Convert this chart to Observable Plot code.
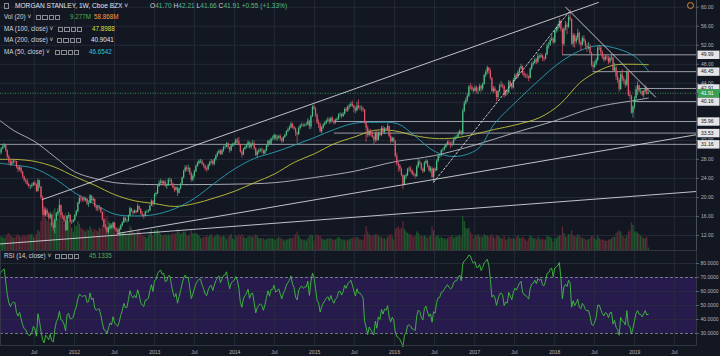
<!DOCTYPE html>
<html><head><meta charset="utf-8">
<script src="https://cdn.jsdelivr.net/npm/d3@7"></script>
<script src="https://cdn.jsdelivr.net/npm/@observablehq/plot@0.6"></script>
<style>
body{margin:0;background:#131722;}
#chart{position:relative;width:720px;height:356px;background:#131722;overflow:hidden;font-family:"Liberation Sans",Arial,sans-serif;}
#chart svg{position:absolute;}
.t{position:absolute;white-space:nowrap;font-size:6.3px;line-height:8px;color:#d1d4dc;}
.ic{display:inline-block;width:3.4px;height:3.4px;border:0.7px solid #8a8d96;margin-right:0.9px;vertical-align:middle;}
</style></head><body><div id="chart"></div>
<script>
// ---------- DATA (weekly bars, week starting 2011-01-24) ----------
const firstWeek = "2011-01-24";
const priorCloses = [25.0,25.6,25.3,24.9,25.9,25.4,24.9,24.3,25.6,26.3,26.9,27.4,27.2,28.6,29.4,29.0];
const closes = [
// 2011
29.4,30.2,30.6,30.9,29.8,28.5,27.5,27.0,27.4,27.6,27.5,26.3,25.8,26.2,25.3,24.3,23.6,23.4,22.7,22.3,22.3,22.5,23.0,22.6,21.3,23.5,22.2,20.0,17.5,16.2,17.2,16.5,15.6,16.3,14.0,13.5,15.2,16.5,17.0,18.3,16.2,16.0,15.0,13.0,16.0,16.2,14.8,14.8,15.1,
// 2012
16.2,17.0,18.7,19.8,19.6,19.4,19.6,19.6,18.6,18.7,20.3,19.3,19.6,18.0,17.6,17.8,17.8,16.8,15.3,13.8,13.6,12.7,13.4,14.0,13.6,14.6,13.4,13.0,12.7,13.2,14.0,14.6,15.6,15.0,15.0,16.1,17.6,17.0,16.7,17.1,16.8,18.1,17.5,16.5,16.2,16.0,16.9,16.9,17.1,18.2,19.2,18.5,20.6,
// 2013
20.8,22.3,23.0,23.3,22.9,23.2,22.4,22.5,23.6,23.6,22.8,22.0,21.5,22.0,20.9,21.8,22.8,24.1,25.5,26.2,25.9,26.1,25.0,23.6,24.4,25.4,26.5,27.1,27.6,27.6,27.0,26.6,26.0,25.8,26.7,27.3,27.5,27.0,27.9,28.7,29.3,29.7,29.1,29.8,30.5,30.6,31.3,30.5,29.8,30.8,31.1,31.3,
// 2014
32.0,31.7,31.0,29.5,28.9,30.1,30.5,30.9,31.5,30.5,31.2,31.3,30.2,28.8,29.5,29.8,30.0,29.8,29.2,29.8,30.8,31.8,31.2,32.3,32.3,33.0,32.3,32.5,32.8,32.3,31.8,32.6,33.0,33.8,34.2,34.6,35.4,34.7,34.4,33.5,33.2,34.5,35.0,35.2,35.0,35.2,35.2,36.0,34.8,37.0,39.0,38.6,
// 2015
37.3,35.7,35.3,33.8,34.6,35.2,35.6,36.0,36.3,35.8,36.6,36.0,35.6,36.2,36.4,37.3,37.4,37.0,37.5,38.5,38.2,39.0,39.2,39.6,39.2,38.7,38.2,39.2,38.8,38.8,38.6,38.4,35.6,34.6,33.0,33.8,33.2,32.6,32.0,33.5,32.0,33.5,33.0,34.5,33.6,34.4,34.2,34.9,32.8,31.7,32.4,31.8,
// 2016
28.6,27.0,26.6,25.9,24.6,22.6,24.3,24.6,25.8,25.9,25.6,24.8,24.7,24.4,26.4,27.4,27.1,25.9,25.4,27.2,27.6,26.5,25.6,26.0,24.2,25.9,25.6,27.6,28.6,28.7,29.8,29.9,30.5,31.0,31.5,31.2,31.0,31.2,32.1,32.6,32.6,33.3,33.8,33.3,38.1,39.7,40.4,41.3,43.2,43.1,42.6,42.3,
// 2017
43.0,42.4,42.4,43.4,42.8,43.8,45.6,46.3,47.2,46.6,45.0,42.3,42.8,42.3,41.0,42.2,43.4,43.6,43.3,41.5,42.2,42.0,44.2,43.6,43.0,44.6,45.6,45.3,46.2,47.0,47.5,46.0,45.6,45.5,45.3,45.0,47.0,48.0,48.2,48.9,48.5,49.7,49.5,49.8,49.2,49.1,50.0,51.8,52.0,53.0,53.3,52.5,
// 2018
55.0,55.4,55.8,57.0,55.3,52.2,55.4,56.2,55.8,57.8,57.4,52.2,54.0,52.7,53.5,54.5,52.4,52.0,53.4,52.8,51.8,51.5,51.6,50.3,47.8,47.4,48.0,48.8,51.4,51.4,50.5,49.5,48.9,49.5,49.3,48.4,49.2,49.3,46.6,47.2,45.3,44.6,42.7,45.8,44.8,44.5,43.6,46.4,41.5,41.2,37.7,39.0,40.8,
// 2019
42.7,43.5,42.3,42.3,41.5,42.2,42.9,41.7,41.91];
const highs = [
29.9,30.5,31.0,31.3,31.0,30.0,28.9,27.9,27.8,28.0,28.0,27.6,26.6,26.6,26.4,25.5,24.5,23.9,23.8,23.0,22.6,22.9,23.2,23.4,22.8,23.9,23.6,22.3,20.3,18.0,17.8,17.6,16.8,16.9,16.4,14.6,15.4,16.8,17.6,19.6,18.4,16.8,16.2,15.1,16.2,16.8,16.4,15.2,15.4,
16.4,17.3,19.0,20.3,20.4,20.0,20.2,20.0,19.8,19.0,20.6,20.4,20.0,19.6,18.2,18.3,18.3,17.9,16.9,15.4,14.3,13.8,13.7,14.5,14.4,14.8,14.7,13.6,13.3,13.4,14.3,14.9,15.9,15.8,15.3,16.3,18.0,17.7,17.2,17.4,17.3,18.6,18.2,17.6,17.0,16.4,17.1,17.3,17.4,18.4,19.5,19.3,20.8,
21.1,22.6,23.5,23.8,23.6,23.5,23.6,22.8,24.0,24.1,23.9,23.0,22.2,22.3,22.1,22.0,23.0,24.3,25.7,26.7,26.6,26.8,26.3,25.3,24.8,25.7,26.8,27.5,27.9,28.0,27.9,27.2,26.8,26.3,27.0,27.6,28.0,27.8,28.2,29.0,29.6,30.0,30.0,30.1,30.8,31.0,31.6,31.5,30.6,31.0,31.4,31.6,
32.3,32.4,32.6,31.1,29.8,30.3,30.8,31.2,31.9,31.7,31.5,32.0,31.8,30.4,29.8,30.2,30.3,30.4,30.0,30.0,31.0,32.0,32.1,32.5,32.9,33.3,33.2,33.0,33.1,33.2,32.5,32.8,33.3,34.0,34.6,35.0,35.8,35.6,35.0,34.6,33.8,34.8,35.3,35.6,35.5,35.5,35.7,36.6,36.2,37.3,39.3,39.5,
38.9,37.6,36.3,35.6,34.9,35.5,35.9,36.3,36.8,36.7,36.9,37.0,36.3,36.5,36.8,37.6,37.8,37.7,37.9,38.8,38.9,39.3,39.6,40.0,40.3,39.4,39.0,40.0,40.5,39.3,39.2,39.0,38.5,35.8,35.0,34.2,34.3,33.8,32.9,33.8,33.9,33.8,33.8,34.9,35.0,34.7,34.6,35.5,35.0,33.6,32.7,32.6,
31.9,29.3,27.4,26.9,26.2,24.8,24.6,25.0,26.1,26.4,26.5,25.8,25.3,25.0,26.7,28.0,27.8,27.2,26.2,27.5,27.9,27.8,26.8,26.5,26.4,26.1,26.2,27.9,28.9,29.0,30.0,30.3,30.9,31.3,31.9,32.0,31.6,31.8,32.4,32.9,33.0,33.8,34.2,34.0,38.6,40.2,40.9,41.8,43.5,44.0,43.6,43.0,
43.5,43.4,43.1,43.8,43.6,44.1,45.9,46.7,47.6,47.3,47.0,45.2,43.3,43.3,42.4,42.5,43.8,44.4,43.9,43.6,42.6,42.6,44.6,44.5,43.9,45.0,46.0,46.0,46.7,47.3,48.0,47.6,46.5,46.0,46.0,45.6,47.3,48.4,48.6,49.3,49.2,50.2,50.0,50.3,50.0,49.5,50.3,52.3,52.6,53.4,54.0,53.6,
55.2,55.9,56.4,57.6,57.3,55.5,55.7,57.0,56.7,58.3,59.4,57.5,54.5,54.4,54.0,55.4,54.8,52.9,53.9,54.0,53.1,52.3,52.6,52.2,50.6,48.5,48.6,49.3,51.8,52.0,51.8,50.8,49.8,49.9,49.9,49.6,49.6,50.0,49.5,48.2,47.5,46.5,45.0,46.3,46.9,45.4,44.7,46.8,46.5,42.4,41.5,39.3,41.2,
43.4,44.3,43.6,42.9,42.4,42.5,43.5,43.2,42.21];
const lows = [
28.6,29.0,30.0,30.3,29.5,28.2,27.0,26.5,26.6,27.0,27.1,26.0,25.2,25.5,24.9,24.0,23.2,22.8,22.4,21.9,21.6,21.9,22.3,22.3,21.0,21.1,21.9,19.5,16.3,15.8,15.9,15.8,15.2,15.3,13.8,12.9,12.3,15.0,16.0,16.8,15.6,15.3,14.6,12.9,13.0,15.5,14.6,14.3,14.6,
15.0,15.9,16.8,18.5,19.0,19.0,19.0,19.1,18.3,17.9,18.6,19.0,19.0,17.8,17.1,17.0,17.3,16.6,15.0,13.6,13.1,12.3,12.3,13.2,13.3,13.3,13.2,12.6,12.3,12.3,13.0,13.8,14.5,14.8,14.6,14.8,16.0,16.8,16.2,16.5,16.5,16.8,17.2,16.3,15.8,15.4,15.9,16.6,16.7,17.0,18.1,18.0,18.4,
20.1,20.6,22.1,22.7,22.4,22.6,22.1,21.7,22.3,23.2,22.4,21.8,21.0,21.3,20.2,20.7,21.6,22.6,23.9,25.2,25.4,25.3,24.6,23.2,23.3,24.1,25.2,26.3,26.8,27.1,26.7,26.2,25.6,25.3,25.6,26.4,27.0,26.6,26.6,27.6,28.4,29.0,28.8,28.8,29.5,30.1,30.4,30.1,29.3,29.6,30.5,30.8,
31.0,31.2,30.8,29.3,28.3,28.8,29.9,30.2,30.3,30.2,30.1,30.8,29.9,28.6,28.3,29.1,29.4,29.3,28.9,29.0,29.6,30.5,30.9,30.9,31.9,32.0,32.0,31.8,32.2,31.9,31.3,31.5,32.4,32.8,33.6,34.0,34.4,34.4,34.0,32.8,31.3,33.0,34.2,34.8,34.7,34.8,34.9,35.1,34.2,34.3,36.8,38.3,
36.9,35.3,34.5,33.6,33.3,34.3,35.0,35.3,35.7,35.3,35.5,35.7,35.2,35.4,35.8,36.2,36.8,36.5,36.8,37.3,37.9,37.9,38.5,38.9,38.9,37.8,37.6,38.0,38.5,38.3,38.0,37.9,35.4,31.6,32.6,32.7,32.8,32.4,30.9,31.5,31.6,31.9,32.7,32.8,33.3,33.2,33.9,33.9,32.5,31.3,31.5,31.4,
28.4,26.6,25.3,25.4,24.3,21.7,22.5,23.8,24.4,25.3,25.2,24.6,24.3,23.9,24.2,26.1,26.7,25.6,25.0,25.2,26.9,26.2,25.3,25.1,24.0,23.1,25.2,25.5,27.3,28.2,28.5,29.5,29.8,30.3,30.8,30.9,30.3,30.6,30.9,31.9,32.2,32.4,33.1,32.9,33.0,37.8,39.4,40.0,41.0,42.6,42.2,41.9,
42.2,41.8,41.6,42.2,42.1,42.4,43.6,45.2,45.8,45.9,44.7,42.0,41.9,41.9,40.1,40.6,42.0,43.0,42.8,40.9,41.2,41.4,41.8,43.1,42.6,42.8,44.4,44.9,45.0,45.9,46.8,45.6,45.1,45.0,44.9,44.3,44.9,46.7,47.6,48.0,47.9,48.1,49.0,49.2,48.6,48.5,48.9,49.8,51.2,51.8,52.8,52.2,
52.3,54.5,54.8,55.5,54.8,50.0,51.7,55.0,54.2,55.5,57.0,52.0,51.5,51.4,52.2,53.0,52.0,50.8,51.8,52.3,51.2,50.5,51.0,50.0,47.4,46.6,47.1,47.6,48.5,50.9,49.9,49.0,48.4,48.6,48.8,47.9,48.1,48.8,46.3,46.4,44.6,44.0,42.1,42.5,44.3,43.7,43.0,43.3,41.2,40.6,37.5,36.7,38.5,
40.4,41.4,41.9,41.7,41.2,40.9,42.0,41.5,41.66];
const volumesM = [
55,50,48,45,52,60,65,58,50,45,48,55,60,52,50,55,58,52,55,60,58,62,50,48,62,75,70,110,180,150,120,110,115,105,140,150,160,140,120,145,130,110,100,140,130,110,105,85,70,
95,90,110,100,85,80,75,70,80,75,90,80,70,80,75,70,85,80,95,150,120,130,110,100,95,90,80,75,85,90,70,65,70,60,55,60,90,85,70,65,60,75,80,60,55,55,50,45,55,70,80,55,75,
75,80,70,60,55,55,60,55,60,55,60,65,60,65,80,70,60,65,70,70,55,55,60,75,65,60,65,60,55,45,45,50,50,55,50,55,60,50,50,55,60,55,50,50,55,50,40,50,55,60,45,40,
55,50,60,55,60,50,45,45,50,55,50,50,55,60,55,45,45,45,45,40,40,45,45,45,45,40,40,45,50,45,45,40,35,40,40,45,45,45,50,60,70,55,45,40,40,40,35,45,55,60,55,35,
55,60,55,55,45,40,40,40,45,45,45,40,40,40,45,50,45,40,40,40,35,40,40,45,45,50,45,50,45,40,40,40,60,90,70,60,55,55,55,60,60,55,50,50,45,45,40,50,55,60,50,40,
80,85,90,80,85,110,80,70,65,60,60,55,50,55,70,65,55,55,50,55,50,45,50,55,90,75,50,55,55,45,50,45,45,40,45,50,50,55,45,50,50,55,55,50,130,110,85,80,85,70,60,45,
55,55,60,50,50,50,60,55,55,50,55,60,50,45,55,55,50,45,45,55,40,40,50,45,45,45,40,50,55,45,45,50,45,40,35,45,55,50,45,45,40,50,45,40,45,40,40,55,50,50,45,30,
45,45,50,55,55,90,65,50,50,60,60,75,55,55,50,60,55,50,45,45,40,40,40,45,55,55,45,40,55,45,40,40,40,35,35,40,40,45,50,50,65,70,75,70,55,50,45,55,70,75,105,95,70,
70,65,60,55,50,45,45,50,9.277];

// moving averages: [date, value]
const ma50 = [["2011-01-24",27.2],["2011-04-01",26.8],["2011-07-01",26.1],["2011-10-01",24.0],["2012-01-01",21.0],["2012-04-01",18.6],["2012-07-01",16.5],["2012-10-01",16.1],["2013-01-01",16.4],["2013-04-01",17.6],["2013-07-01",19.8],["2013-10-01",23.0],["2014-01-01",26.0],["2014-04-01",28.2],["2014-07-01",29.5],["2014-10-01",31.0],["2015-01-01",32.6],["2015-04-01",34.3],["2015-07-01",35.6],["2015-10-01",35.8],["2016-01-15",35.5],["2016-04-01",33.0],["2016-07-01",29.7],["2016-10-01",28.6],["2017-01-15",30.2],["2017-04-01",35.5],["2017-07-15",40.4],["2017-10-15",44.4],["2018-01-25",48.4],["2018-04-28",50.9],["2018-07-15",51.9],["2018-09-25",51.5],["2018-12-28",49.8],["2019-03-04",46.65]];
const ma100 = [["2011-01-24",28.0],["2011-04-01",28.0],["2011-07-01",27.6],["2011-10-01",26.4],["2012-01-01",24.4],["2012-04-01",22.6],["2012-07-01",20.6],["2012-10-01",19.3],["2013-01-01",18.7],["2013-04-01",18.1],["2013-07-01",18.7],["2013-10-01",19.9],["2014-01-01",21.3],["2014-04-01",23.1],["2014-07-01",24.9],["2014-10-01",27.4],["2015-01-01",29.2],["2015-04-01",31.3],["2015-07-01",32.7],["2015-10-01",34.1],["2016-01-01",34.0],["2016-04-01",33.0],["2016-07-01",32.4],["2016-10-01",32.5],["2017-01-01",33.3],["2017-04-01",34.3],["2017-07-01",35.2],["2017-10-25",36.8],["2018-01-25",39.6],["2018-04-28",44.2],["2018-07-15",46.5],["2018-09-25",47.8],["2018-12-28",48.0],["2019-03-04",47.9]];
const ma200 = [["2011-01-24",36.2],["2011-04-01",34.0],["2011-07-01",31.8],["2011-10-01",28.6],["2012-01-01",25.4],["2012-04-01",24.0],["2012-07-01",23.1],["2012-10-01",22.8],["2013-01-01",22.7],["2013-07-01",22.7],["2014-01-01",22.8],["2014-07-01",23.1],["2015-01-01",24.2],["2015-07-01",25.5],["2016-01-01",27.5],["2016-07-01",28.8],["2017-01-01",31.0],["2017-07-01",33.6],["2018-01-01",36.1],["2018-07-01",38.9],["2019-01-01",40.4],["2019-03-04",40.9]];

// drawn trend lines: [start date, price, end date, price]
const trendLines = [
  ["2011-08-08",19.57,"2018-07-19",60.99],
  ["2012-07-16",12.42,"2019-10-15",33.23],
  ["2011-01-24",10.21,"2019-10-10",21.25],
  ["2018-02-20",60.0,"2019-04-06",41.1]];
const dashedLine = ["2016-06-27",23.2,"2018-03-05",58.9];
// horizontal levels
const levelValues = [49.99,46.45,42.91,40.16,35.96,33.53,31.16];
const levelStarts = ["2018-02-05","2018-06-25","2019-01-14","2018-12-27","2015-04-01","2015-04-01","2011-01-24"];
const lastPrice = 41.91;

// ticks and labels
const priceTicks = [12,16,20,24,28,32,36,40,44,48,52,56,60];
const priceLabels = [12,16,20,24,28,32,44,48,52,56,60];
const rsiTicks = [30,40,50,60,70,80];
const rsiBand = [30,70];
const timeTicks = ["2011-07-01","2012-01-01","2012-07-01","2013-01-01","2013-07-01","2014-01-01","2014-07-01","2015-01-01","2015-07-01","2016-01-01","2016-07-01","2017-01-01","2017-07-01","2018-01-01","2018-07-01","2019-01-01","2019-07-01"];
const viewDates = ["2011-01-28","2019-10-10"];
const viewPrice = [8.84,61.41];
const viewVolume = [0,950];
const viewRsi = [21.4,89.3];

// ---------- BUILD ----------
const UP="#4fbf86", DOWN="#e5566a", GRID="#2a2f3d", AX="#b2b5be";
const start = new Date(firstWeek+"T00:00Z");
const bars = closes.map((c,i)=>({
  date: d3.utcMonday.offset(start,i),
  open: i ? closes[i-1] : priorCloses[priorCloses.length-1],
  high: highs[i], low: lows[i], close: c, vol: volumesM[i]}));
bars.forEach(b=>{ b.col = b.close>=b.open ? UP : DOWN; b.vcol = b.close>=b.open ? "#1e5a2d" : "#5e2636"; });

// RSI(14), Wilder smoothing, from closes
const ser = priorCloses.concat(closes);
const rsiVals = [];
let ag=0, al=0;
for (let i=1;i<ser.length;i++){
  const ch=ser[i]-ser[i-1], g=Math.max(ch,0), l=Math.max(-ch,0);
  if (i<=14){ ag+=g/14; al+=l/14; } else { ag=(ag*13+g)/14; al=(al*13+l)/14; }
  if (i>=14) rsiVals[i] = al===0 ? 100 : 100-100/(1+ag/al);
}
const rsiData = bars.map((b,i)=>({date:b.date, rsi:rsiVals[i+priorCloses.length]}));

const D = s=>new Date(s+"T00:00Z");
const xDom = viewDates.map(D);
const tTicks = timeTicks.map(D);
const maRows = arr=>arr.map(([d,v])=>({date:D(d),v}));
const segs = [];
trendLines.forEach((t,k)=>{ segs.push({id:k,date:D(t[0]),v:t[1]}); segs.push({id:k,date:D(t[2]),v:t[3]}); });
const dashSeg = [{date:D(dashedLine[0]),v:dashedLine[1]},{date:D(dashedLine[2]),v:dashedLine[3]}];
const levels = levelValues.map((v,i)=>({v, start:D(levelStarts[i]), end:xDom[1]}));

const style = {background:"none", color:AX, fontSize:"5px", fontFamily:"Liberation Sans, Arial, sans-serif", overflow:"visible"};
const common = {width:720, marginLeft:0, marginRight:24, marginTop:0, style};

const chart = document.getElementById("chart");
function place(svg, left, top){ svg.style.left = left+"px"; svg.style.top = top+"px"; chart.appendChild(svg); }

// layer 1: grid (price pane)
place(Plot.plot({...common, height:250, marginBottom:0,
  x:{type:"utc", domain:xDom, axis:null}, y:{domain:viewPrice, axis:null},
  marks:[
    Plot.ruleX(tTicks,{stroke:GRID, strokeWidth:0.8}),
    Plot.ruleY(priceTicks,{stroke:GRID, strokeWidth:0.8})
  ]}), 0, 0);

// layer 2: volume
place(Plot.plot({...common, height:250, marginBottom:0,
  x:{type:"utc", domain:xDom, axis:null}, y:{domain:viewVolume, axis:null},
  color:{type:"identity"},
  marks:[
    Plot.ruleX(bars,{x:"date", y1:0, y2:"vol", stroke:"vcol", strokeWidth:1.3})
  ]}), 0, 0);

// layer 3: price
place(Plot.plot({...common, height:250, marginBottom:0,
  x:{type:"utc", domain:xDom, axis:null}, y:{domain:viewPrice, axis:null},
  color:{type:"identity"},
  marks:[
    Plot.ruleY(levels,{y:"v", x1:"start", x2:"end", stroke:"#a9acb5", strokeWidth:0.9}),
    Plot.ruleY([lastPrice],{stroke:"#3fae5a", strokeWidth:0.8, strokeDasharray:"1,1.5"}),
    Plot.line(maRows(ma200),{x:"date", y:"v", stroke:"#b9bac2", strokeWidth:0.9, curve:"catmull-rom"}),
    Plot.line(maRows(ma100),{x:"date", y:"v", stroke:"#c4c43a", strokeWidth:0.9, curve:"catmull-rom"}),
    Plot.line(maRows(ma50),{x:"date", y:"v", stroke:"#27a3b5", strokeWidth:0.9, curve:"catmull-rom"}),
    Plot.ruleX(bars,{x:"date", y1:"low", y2:"high", stroke:"col", strokeWidth:0.7}),
    Plot.ruleX(bars,{x:"date", y1:"open", y2:"close", stroke:"col", strokeWidth:1.2}),
    Plot.line(segs,{x:"date", y:"v", z:"id", stroke:"#d4d6dc", strokeWidth:0.9, clip:true}),
    Plot.line(dashSeg,{x:"date", y:"v", stroke:"#d4d6dc", strokeWidth:0.9, strokeDasharray:"2,2", clip:true}),
    Plot.ruleX([xDom[1]],{stroke:"#4a4e5a", strokeWidth:1})
  ]}), 0, 0);

// layer 4: price axis strip (labels + level boxes)
place(Plot.plot({width:24, height:250, margin:0, style,
  y:{domain:viewPrice, axis:null},
  marks:[
    Plot.tickY(priceTicks,{y:d=>d, stroke:"#6b6f7a", strokeWidth:0.8, insetRight:21}),
    Plot.text(priceLabels,{y:d=>d, text:d=>d.toFixed(2), frameAnchor:"left", dx:4.5, textAnchor:"start", fill:AX}),
    Plot.tickY(levels,{y:"v", stroke:"#e4e5e8", strokeWidth:8.4, insetLeft:1.5, insetRight:0.5}),
    Plot.text(levels,{y:"v", text:d=>d.v.toFixed(2), frameAnchor:"left", dx:4.5, textAnchor:"start", fill:"#131722"}),
    Plot.tickY([lastPrice],{y:d=>d, stroke:"#3a9f55", strokeWidth:8.4, insetLeft:1.5, insetRight:0.5}),
    Plot.text([lastPrice],{y:d=>d, text:d=>d.toFixed(2), frameAnchor:"left", dx:4.5, textAnchor:"start", fill:"#ffffff"})
  ]}), 696, 0);

// layer 5: RSI pane + time axis
place(Plot.plot({...common, height:106, marginBottom:11,
  x:{type:"utc", domain:xDom, axis:null}, y:{domain:viewRsi, axis:null},
  marks:[
    Plot.rect([rsiBand],{x1:()=>xDom[0], x2:()=>xDom[1], y1:d=>d[0], y2:d=>d[1], fill:"#271a4c"}),
    Plot.ruleX(tTicks,{stroke:GRID, strokeWidth:0.8}),
    Plot.ruleY([40,50,60,80],{stroke:GRID, strokeWidth:0.8}),
    Plot.ruleY(rsiBand,{stroke:"#8f91a3", strokeWidth:0.8, strokeDasharray:"3,2"}),
    Plot.line(rsiData,{x:"date", y:"rsi", stroke:"#3fbf3f", strokeWidth:0.9}),
    Plot.frame({stroke:"#3a3e4a", strokeWidth:0.8}),
    Plot.text(tTicks,{x:d=>d, text:d=>d.getUTCMonth()===0 ? String(d.getUTCFullYear()) : "Jul", frameAnchor:"bottom", dy:8.3, fill:AX})
  ]}), 0, 250);

// layer 6: RSI axis strip
place(Plot.plot({width:24, height:106, margin:0, marginBottom:11, style,
  y:{domain:viewRsi, axis:null},
  marks:[
    Plot.tickY(rsiTicks,{y:d=>d, stroke:"#6b6f7a", strokeWidth:0.8, insetRight:21}),
    Plot.text(rsiTicks,{y:d=>d, text:d=>d.toFixed(4), frameAnchor:"left", dx:4, textAnchor:"start", fill:AX})
  ]}), 696, 250);

// ---------- legends (HTML text) ----------
function put(html, x, y, color, size){
  const el=document.createElement("div"); el.className="t";
  el.style.left=x+"px"; el.style.top=(y-4)+"px";
  if(color) el.style.color=color; if(size) el.style.fontSize=size+"px";
  el.innerHTML=html; chart.appendChild(el);
}
const icons = '<span class="ic"></span><span class="ic"></span><span class="ic"></span><span class="ic"></span>';
put('<span class="ic" style="width:3px;height:4px"></span>', 4, 6);
put('MORGAN STANLEY, 1W, Cboe BZX &#x2c5;', 15, 6, "#e0e3eb", 6.6);
put('O<span style="color:#53b987">41.70</span> H<span style="color:#53b987">42.21</span> L<span style="color:#53b987">41.66</span> C<span style="color:#53b987">41.91 +0.55 (+1.33%)</span>', 150, 6, "#d1d4dc", 6.6);
put('Vol (20) &#x2c5;', 4, 17); put(icons, 36, 17); put('9.277M', 70, 17, "#4caf50"); put('58.868M', 94, 17, "#ff9a3c");
put('MA (100, close) &#x2c5;', 4, 29); put(icons, 58, 29); put('47.8988', 92, 29, "#dede3a");
put('MA (200, close) &#x2c5;', 4, 40); put(icons, 57, 40); put('40.9041', 91, 40, "#e6e6ea");
put('MA (50, close) &#x2c5;', 4, 52); put(icons, 55, 52); put('46.6542', 89, 52, "#2ec4d6");
put('RSI (14, close) &#x2c5;', 4, 256); put(icons, 55, 256); put('45.1335', 89, 256, "#4caf50");
const oc=document.createElement("div");
oc.style.cssText="position:absolute;left:687px;top:2px;width:5px;height:5px;border:1px solid #e08a2c;border-radius:50%;";
chart.appendChild(oc);
</script></body></html>
